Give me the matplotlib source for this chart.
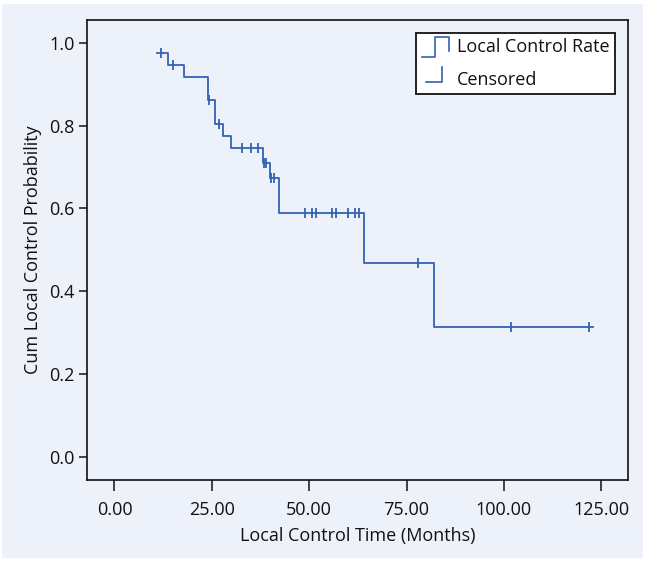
import numpy as np
import matplotlib
matplotlib.use("Agg")
import matplotlib.pyplot as plt
from matplotlib.lines import Line2D
from matplotlib.patches import Rectangle
from matplotlib.legend_handler import HandlerBase

# ---- data ----
start_time = 10.8
end_time = 123.0
event_times = [13.8, 17.9, 24.1, 25.9, 27.9, 29.9, 38.2, 40.0, 42.2, 64.1, 82.0]
surv_levels = [0.975, 0.946, 0.918, 0.862, 0.805, 0.776, 0.745, 0.711, 0.674,
               0.590, 0.469, 0.314]
censor_times = [11.9, 15.0, 24.2, 26.8, 32.8, 35.0, 36.8, 38.3, 38.9, 40.2, 40.9,
                48.9, 50.8, 51.8, 55.9, 56.8, 60.0, 61.8, 62.9, 77.9, 101.9, 121.9]
x_ticks = [0, 25, 50, 75, 100, 125]
x_tick_labels = ["0.00", "25.00", "50.00", "75.00", "100.00", "125.00"]
y_ticks = [0.0, 0.2, 0.4, 0.6, 0.8, 1.0]
y_tick_labels = ["0.0", "0.2", "0.4", "0.6", "0.8", "1.0"]

BG = "#EDF1FA"
LINE = "#3461B3"
INK = "#111111"
FONT = ["Open Sans", "DejaVu Sans"]
FS = 13
plt.rcParams["font.family"] = FONT

W, H = 645, 561
fig = plt.figure(figsize=(W / 100, H / 100), dpi=100, facecolor="white")
fig.patches.append(Rectangle((2 / W, 3 / H), 641 / W, 554 / H, transform=fig.transFigure,
                             facecolor=BG, edgecolor="none", zorder=-10))

left, right, top, bottom = 87.2, 628.1, 19.7, 480.1
ax = fig.add_axes([left / W, 1 - bottom / H, (right - left) / W, (bottom - top) / H])
ax.set_facecolor(BG)

xs = [start_time] + event_times + [end_time]
ys = surv_levels + [surv_levels[-1]]
ax.step(xs, ys, where="post", color=LINE, lw=1.3, zorder=3)

cy = [surv_levels[np.searchsorted(event_times, t, side="right")] for t in censor_times]
ax.plot(censor_times, cy, linestyle="none", marker="|", markersize=7, markeredgewidth=1.3,
        color=LINE, zorder=4)

ax.set_xlim(-7.0, 131.9)
ax.set_ylim(-0.056, 1.056)
ax.set_xticks(x_ticks)
ax.set_xticklabels(x_tick_labels)
ax.set_yticks(y_ticks)
ax.set_yticklabels(y_tick_labels)
for s in ax.spines.values():
    s.set_linewidth(1.2)
    s.set_color(INK)
ax.tick_params(axis="x", length=8, width=1.1, pad=7, labelsize=FS, colors=INK)
ax.tick_params(axis="y", length=6, width=1.1, pad=3, labelsize=FS, colors=INK)
ax.set_xlabel("Local Control Time (Months)", fontsize=FS, labelpad=6, color=INK)
ax.set_ylabel("Cum Local Control Probability", fontsize=FS, labelpad=5, color=INK)


class StepHandler(HandlerBase):
    def create_artists(self, legend, orig_handle, xdescent, ydescent, width, height,
                       fontsize, trans):
        x0, y0 = -xdescent, -ydescent
        c = y0 + height / 2
        xs_ = [x0, x0 + 0.5 * width, x0 + 0.5 * width, x0 + width, x0 + width]
        ys_ = [c - 0.6 * fontsize, c - 0.6 * fontsize, c + 0.5 * fontsize,
               c + 0.5 * fontsize, c - 0.28 * fontsize]
        ln = Line2D(xs_, ys_, color=LINE, lw=1.2, transform=trans)
        return [ln]


class CensorHandler(HandlerBase):
    def create_artists(self, legend, orig_handle, xdescent, ydescent, width, height,
                       fontsize, trans):
        x0, y0 = -xdescent, -ydescent
        c = y0 + height / 2
        xs_ = [x0 + 0.15 * width, x0 + 0.75 * width, x0 + 0.75 * width]
        ys_ = [c - 0.2 * fontsize, c - 0.2 * fontsize, c + 0.65 * fontsize]
        ln = Line2D(xs_, ys_, color=LINE, lw=1.2, transform=trans)
        return [ln]


h1 = Line2D([], [], color=LINE)
h2 = Line2D([], [], color=LINE, marker="|")
leg = ax.legend([h1, h2], ["Local Control Rate", "Censored"],
                handler_map={h1: StepHandler(), h2: CensorHandler()},
                loc="upper right", bbox_to_anchor=(615 / W, 1 - 32.9 / H),
                bbox_transform=fig.transFigure, borderaxespad=0,
                fontsize=FS, handlelength=1.5, handletextpad=0.45,
                labelspacing=0.8, borderpad=0.3, fancybox=False, framealpha=1)
leg.get_frame().set_edgecolor(INK)
leg.get_frame().set_linewidth(1.3)
for t in leg.get_texts():
    t.set_color(INK)

fig.savefig("out.png", dpi=100, facecolor="white")
